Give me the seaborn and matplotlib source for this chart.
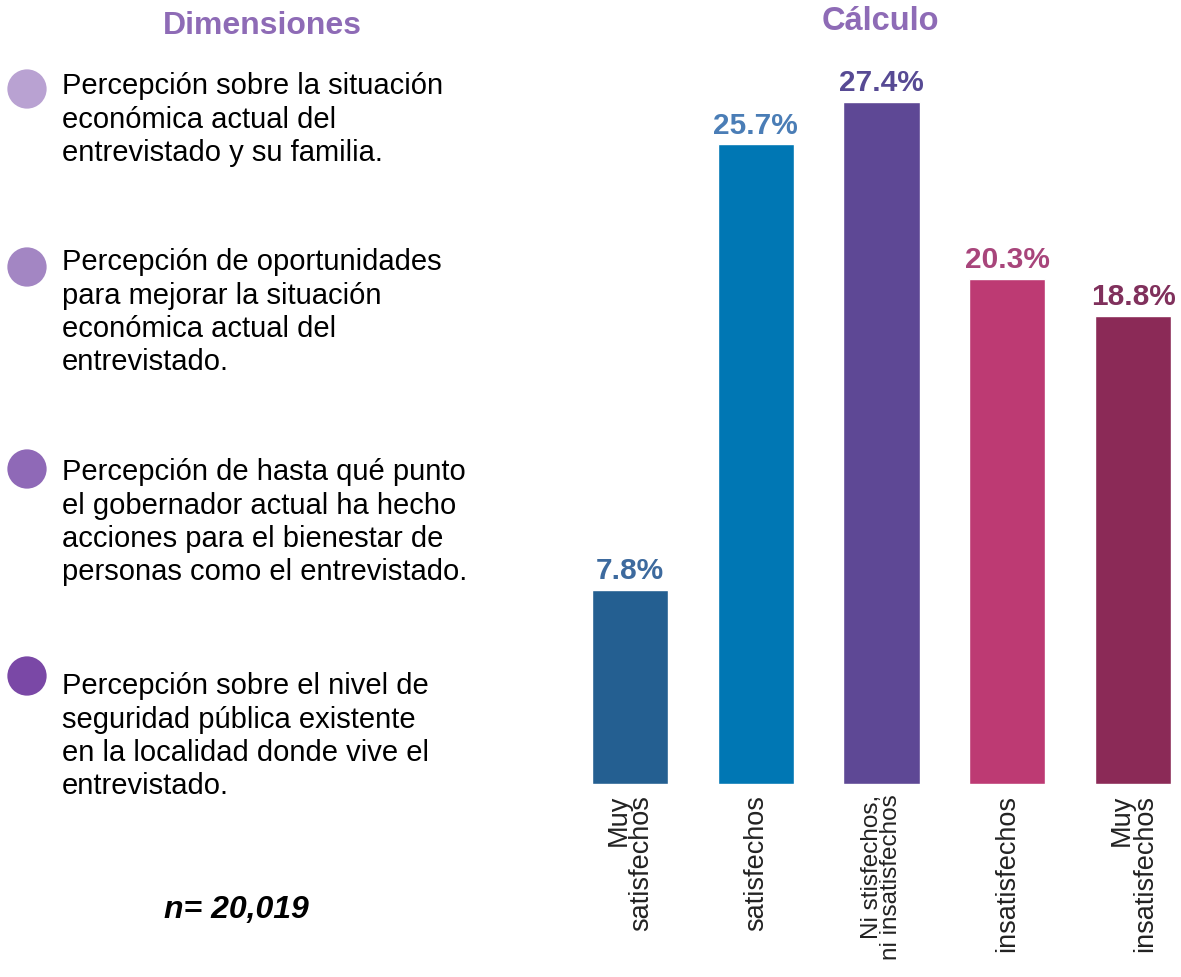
import matplotlib
matplotlib.use('Agg')
import matplotlib.pyplot as plt
import seaborn as sns
import pandas as pd

# chart data
categorias = ['Muy\nsatisfechos', 'satisfechos', 'Ni stisfechos,\nni insatisfechos',
              'insatisfechos', 'Muy\ninsatisfechos']
porcentajes = [7.8, 25.7, 27.4, 20.3, 18.8]
colores_barras = ['#245f91', '#0077b4', '#5e4895', '#bd3a73', '#8b2a57']
colores_etiquetas = ['#3d6a9e', '#4a7db6', '#574a94', '#a8457b', '#80305c']

dimensiones = [
    'Percepción sobre la situación\neconómica actual del\nentrevistado y su familia.',
    'Percepción de oportunidades\npara mejorar la situación\neconómica actual del\nentrevistado.',
    'Percepción de hasta qué punto\nel gobernador actual ha hecho\nacciones para el bienestar de\npersonas como el entrevistado.',
    'Percepción sobre el nivel de\nseguridad pública existente\nen la localidad donde vive el\nentrevistado.',
]
colores_puntos = ['#b9a2d2', '#a386c3', '#8f69b7', '#7a48a6']

sns.set_theme(style='white')
plt.rcParams['font.family'] = ['Liberation Sans', 'DejaVu Sans']

W, H = 1181, 978
fig = plt.figure(figsize=(W / 100, H / 100), dpi=100)

# left panel in pixel coords
axl = fig.add_axes([0, 0, 1, 1])
axl.set_xlim(0, W)
axl.set_ylim(H, 0)
axl.axis('off')
y_bloques = [72, 248, 458, 672]
y_puntos = [90, 268, 470, 677]
axl.scatter([27] * 4, y_puntos, s=800, c=colores_puntos, linewidths=0)
for txt, yb in zip(dimensiones, y_bloques):
    axl.text(62, yb, txt, fontsize=21, va='top', ha='left', color='black',
             linespacing=1.25)
axl.text(262, 26, 'Dimensiones', fontsize=23, fontweight='bold', color='#8e6bb6',
         ha='center', va='center')
axl.text(880, 22, 'Cálculo', fontsize=23.5, fontweight='bold', color='#8e6bb6',
         ha='center', va='center')
axl.text(236, 910, 'n= 20,019', fontsize=23, fontweight='bold', style='italic',
         ha='center', va='center', color='black')

# bar chart
left_px, right_px, base_px, top_px = 567, 1181, 785, 60
ax = fig.add_axes([left_px / W, 1 - base_px / H, (right_px - left_px) / W,
                   (base_px - top_px) / H])
df = pd.DataFrame({'cat': categorias, 'val': porcentajes})
sns.barplot(data=df, x='cat', y='val', hue='cat', palette=colores_barras,
            width=0.605, legend=False, ax=ax, saturation=1)
ax.set_xlim(-0.5, 4.38)
ax.set_ylim(0, (base_px - top_px) / 24.9)
for i, v in enumerate(porcentajes):
    ax.annotate(f'{v}%', (i, v), xytext=(0, 4), textcoords='offset points',
                ha='center', va='bottom', fontsize=21.5, fontweight='bold',
                color=colores_etiquetas[i])
ax.set_xlabel('')
ax.set_ylabel('')
ax.set_yticks([])
ax.tick_params(axis='x', length=0, pad=7)
ax.set_xticks(range(len(categorias)))
ax.set_xticklabels(categorias, rotation=90, fontsize=19.5, va='top',
                   ha='center', multialignment='right', linespacing=0.85,
                   color='#222222')
# the long middle label is shrunk a little so it stays inside the figure
ax.get_xticklabels()[2].set_fontsize(17.5)
sns.despine(ax=ax, left=True, bottom=True)
ax.set_facecolor('none')

fig.savefig('out.png', dpi=100)
